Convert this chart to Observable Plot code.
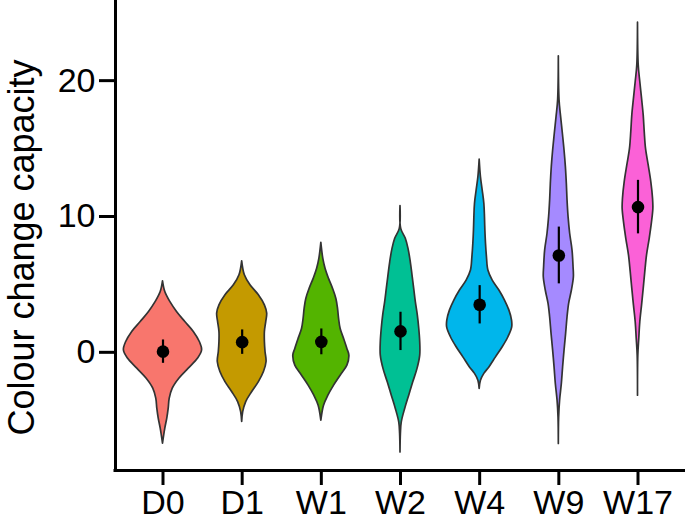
<!DOCTYPE html>
<html><head><meta charset="utf-8">
<script src="https://cdn.jsdelivr.net/npm/d3@7"></script>
<script src="https://cdn.jsdelivr.net/npm/@observablehq/plot@0.6"></script>
<style>body{margin:0;background:#fff}</style>
</head><body><div id="chart"></div>
<script>
const categories = ["D0","D1","W1","W2","W4","W9","W17"];
const colors = ["#F8766D","#C49A00","#53B400","#00C094","#00B6EB","#A58AFF","#FB61D7"];
const means = [0.05, 0.75, 0.77, 1.54, 3.5, 7.13, 10.69];
const errHalf = [0.86, 0.9, 0.95, 1.41, 1.41, 2.09, 1.97];
const yTicks = [0, 10, 20];
const yTitle = "Colour change capacity";

// violin profiles: [value, half-width in category units]
const violinD0 = [[5.23,0],[4.44,0.029],[3.71,0.092],[2.97,0.177],[2.23,0.282],[1.50,0.389],[0.76,0.465],[0.15,0.494],[-0.46,0.443],[-1.20,0.325],[-1.94,0.206],[-2.67,0.123],[-3.41,0.085],[-4.15,0.072],[-4.88,0.054],[-5.62,0.029],[-6.72,0]];
const violinD1 = [[6.70,0],[5.67,0.034],[4.93,0.105],[4.20,0.211],[3.46,0.287],[2.85,0.316],[2.23,0.304],[1.50,0.287],[0.76,0.287],[0.02,0.295],[-0.71,0.308],[-1.45,0.275],[-2.19,0.211],[-2.92,0.127],[-3.66,0.051],[-4.40,0.013],[-5.13,0]];
const violinW1 = [[8.06,0],[6.88,0.025],[6.14,0.054],[5.41,0.097],[4.67,0.148],[3.93,0.19],[3.20,0.211],[2.46,0.224],[1.72,0.244],[0.99,0.287],[0.25,0.329],[-0.24,0.354],[-0.98,0.329],[-1.72,0.244],[-2.45,0.161],[-3.19,0.089],[-3.93,0.034],[-5.03,0]];
const violinW2 = [[10.76,0],[9.09,0.009],[8.36,0.067],[7.62,0.101],[6.63,0.13],[5.65,0.152],[4.67,0.173],[3.68,0.194],[2.70,0.219],[1.72,0.237],[0.74,0.249],[-0.24,0.249],[-1.22,0.215],[-2.21,0.161],[-3.19,0.110],[-4.17,0.059],[-5.16,0.016],[-6.0,0.005],[-7.37,0]];
const violinW4 = [[14.18,0],[12.90,0.016],[11.92,0.038],[10.94,0.059],[9.95,0.067],[8.97,0.072],[7.99,0.080],[7.00,0.092],[6.02,0.110],[5.28,0.165],[4.55,0.249],[3.81,0.320],[3.07,0.376],[2.34,0.409],[1.84,0.411],[1.11,0.363],[0.37,0.291],[-0.37,0.206],[-1.11,0.123],[-1.59,0.059],[-2.09,0.016],[-2.70,0]];
const violinW9 = [[21.79,0],[18.55,0.009],[17.32,0.029],[16.09,0.051],[14.86,0.072],[13.63,0.089],[12.41,0.101],[11.18,0.110],[9.95,0.123],[8.73,0.143],[7.49,0.173],[6.26,0.186],[5.53,0.19],[4.55,0.165],[3.57,0.130],[2.58,0.110],[1.36,0.092],[0.13,0.072],[-1.11,0.054],[-2.33,0.038],[-3.56,0.016],[-4.79,0.004],[-6.75,0]];
const violinW17 = [[24.27,0],[21.13,0.009],[19.90,0.029],[18.67,0.051],[17.44,0.072],[16.21,0.085],[14.99,0.101],[13.76,0.135],[12.53,0.168],[11.30,0.19],[10.57,0.194],[9.58,0.177],[8.36,0.148],[7.13,0.114],[5.90,0.092],[4.67,0.072],[3.44,0.051],[2.21,0.029],[0.99,0.016],[-0.24,0.004],[-3.19,0]];
const profiles = [violinD0, violinD1, violinW1, violinW2, violinW4, violinW9, violinW17];

const violinRows = profiles.flatMap((p, i) => p.map(([v, w]) => ({cat: categories[i], i, v, w})));
const summary = categories.map((c, i) => ({cat: c, i, m: means[i], lo: means[i] - errHalf[i], hi: means[i] + errHalf[i]}));

const xDomain = [-0.6, categories.length - 0.4];
const yDomain = [-8.7, 25.9];

const chart = Plot.plot({
  width: 685, height: 530,
  marginLeft: 115, marginRight: 0, marginTop: 0, marginBottom: 60,
  style: {fontFamily: "'Liberation Sans', Arial, sans-serif", fontSize: "34px", color: "#000", background: "#fff", overflow: "visible"},
  x: {domain: xDomain, axis: null},
  y: {domain: yDomain, axis: null},
  color: {domain: categories, range: colors},
  marks: [
    Plot.areaX(violinRows, {y: "v", x1: d => d.i - d.w, x2: d => d.i + d.w, z: "cat", fill: "cat", stroke: "#333", strokeWidth: 1.7, curve: "catmull-rom"}),
    Plot.ruleX(summary, {x: "i", y1: "lo", y2: "hi", stroke: "#000", strokeWidth: 2.2}),
    Plot.dot(summary, {x: "i", y: "m", r: 6.3, fill: "#000"}),
    Plot.ruleX([xDomain[0]], {stroke: "#000", strokeWidth: 3, strokeLinecap: "square"}),
    Plot.ruleY([yDomain[0]], {stroke: "#000", strokeWidth: 3, strokeLinecap: "square"}),
    Plot.axisY({ticks: yTicks, tickSize: 16, tickPadding: 4, strokeWidth: 3, fontSize: 34, label: null}),
    Plot.axisX({ticks: d3.range(categories.length), tickFormat: i => categories[i], tickSize: 15, tickPadding: 4, strokeWidth: 3, fontSize: 34, label: null}),
    Plot.text([yTitle], {frameAnchor: "left", rotate: -90, textAnchor: "middle", lineAnchor: "top", dx: -107, dy: 12, fontSize: 36, fill: "#000"})
  ]
});
document.getElementById("chart").appendChild(chart);
</script>
</body></html>
